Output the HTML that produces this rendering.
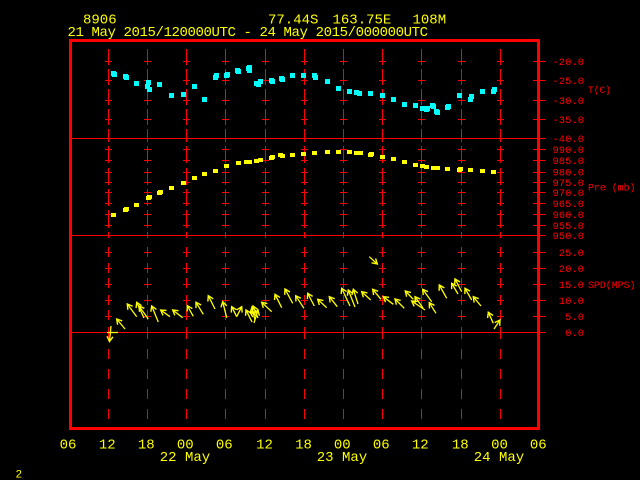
<!DOCTYPE html>
<html><head><meta charset="utf-8"><style>
html,body{margin:0;padding:0;background:#000;width:640px;height:480px;overflow:hidden}
svg{display:block}
text{font-family:"Liberation Mono","DejaVu Sans Mono",monospace}
.y{fill:#ff0}.r{fill:#f00}
</style></head><body>
<svg width="640" height="480" viewBox="0 0 640 480" xmlns="http://www.w3.org/2000/svg">
<defs>
<marker id="ah" viewBox="-6 -6 12 12" markerWidth="12" markerHeight="12" refX="0" refY="0" orient="auto" markerUnits="userSpaceOnUse" overflow="visible"><path d="M-5,-3L0,0L-5,3" fill="none" stroke="#ff0" stroke-width="1.4"/></marker>
<g id="g" stroke="#f00" stroke-width="1" fill="none" shape-rendering="crispEdges">
<path d="M0.5,49V65M0.5,69V85M0.5,89V105M0.5,109V125M0.5,129V142M0.5,146V163M0.5,168V185M0.5,189V206M0.5,210V228M0.5,232V238M0.5,247V257M0.5,263V273M0.5,278V288M0.5,295V305M0.5,310V320M0.5,327V339M0.5,349V359M0.5,369V379M0.5,389V399M0.5,409V419"/>
<path d="M-3,61.5H4M-3,80.5H4M-3,100.5H4M-3,119.5H4M-3,149.5H4M-3,160.5H4M-3,172.5H4M-3,182.5H4M-3,192.5H4M-3,203.5H4M-3,214.5H4M-3,225.5H4M-3,252.5H4M-3,268.5H4M-3,284.5H4M-3,300.5H4M-3,316.5H4"/>
</g>
</defs>
<rect width="640" height="480" fill="#000"/>
<g class="y" font-size="14">
<text x="83" y="23.5">8906</text>
<text x="268" y="23.5">77.44S</text>
<text x="332.5" y="23.5">163.75E</text>
<text x="412.5" y="23.5">108M</text>
<text x="67.5" y="36" textLength="360.5" lengthAdjust="spacing">21 May 2015/120000UTC - 24 May 2015/000000UTC</text>
</g>
<use href="#g" x="108"/><use href="#g" x="147"/><use href="#g" x="186"/><use href="#g" x="225"/><use href="#g" x="265"/><use href="#g" x="304"/><use href="#g" x="343"/><use href="#g" x="382"/><use href="#g" x="421"/><use href="#g" x="461"/><use href="#g" x="500"/>
<g stroke="#f00" stroke-width="1" shape-rendering="crispEdges" fill="none">
<path d="M72,138.5H545M72,235.5H545M72,332.5H545"/>
<path d="M533,61.5H545M533,80.5H545M533,100.5H545M533,119.5H545M533,149.5H545M533,160.5H545M533,172.5H545M533,182.5H545M533,192.5H545M533,203.5H545M533,214.5H545M533,225.5H545M533,252.5H545M533,268.5H545M533,284.5H545M533,300.5H545M533,316.5H545"/>
</g>
<rect x="70.5" y="40.5" width="468" height="388" fill="none" stroke="#f00" stroke-width="3" shape-rendering="crispEdges"/>
<g class="r" font-size="10.5" text-anchor="end">
<text x="584" y="65">-20.0</text><text x="584" y="84">-25.0</text><text x="584" y="104">-30.0</text><text x="584" y="123">-35.0</text><text x="584" y="142">-40.0</text>
<text x="584" y="153">990.0</text><text x="584" y="164">985.0</text><text x="584" y="175.5">980.0</text><text x="584" y="186">975.0</text><text x="584" y="196">970.0</text><text x="584" y="207">965.0</text><text x="584" y="218">960.0</text><text x="584" y="229">955.0</text><text x="584" y="239">950.0</text>
<text x="584" y="256">25.0</text><text x="584" y="272">20.0</text><text x="584" y="288">15.0</text><text x="584" y="304">10.0</text><text x="584" y="320">5.0</text><text x="584" y="336">0.0</text>
</g>
<g class="r" font-size="10.5">
<text x="588" y="93" textLength="23" lengthAdjust="spacingAndGlyphs">T(C)</text>
<text x="588" y="190.5" textLength="47.5" lengthAdjust="spacingAndGlyphs">Pre (mb)</text>
<text x="588" y="287.8" textLength="47.5" lengthAdjust="spacingAndGlyphs">SPD(MPS)</text>
</g>
<g class="y" font-size="14" text-anchor="middle">
<text x="68" y="448.5">06</text><text x="107.3" y="448.5">12</text><text x="146.3" y="448.5">18</text><text x="185.3" y="448.5">00</text><text x="224.3" y="448.5">06</text><text x="264.5" y="448.5">12</text><text x="303.5" y="448.5">18</text><text x="342.3" y="448.5">00</text><text x="381.3" y="448.5">06</text><text x="420.3" y="448.5">12</text><text x="460.3" y="448.5">18</text><text x="499.5" y="448.5">00</text><text x="538.3" y="448.5">06</text>
<text x="185" y="461">22 May</text><text x="342" y="461">23 May</text><text x="499" y="461">24 May</text>
</g>
<text x="15.5" y="477.3" class="y" font-size="11">2</text>
<path fill="#0ff" shape-rendering="crispEdges" d="M111,71h5v5h-5zM112,72h5v5h-5zM123,74h5v5h-5zM124,75h5v5h-5zM134,81h5v5h-5zM146,80h5v5h-5zM145,84h5v5h-5zM147,87h5v5h-5zM157,82h5v5h-5zM169,93h5v5h-5zM181,92h5v5h-5zM192,84h5v5h-5zM202,97h5v5h-5zM213,75h5v5h-5zM214,73h5v5h-5zM224,73h5v5h-5zM225,72h5v5h-5zM235,68h5v5h-5zM236,69h5v5h-5zM246,66h5v5h-5zM247,68h5v5h-5zM247,65h5v5h-5zM254,81h5v5h-5zM256,82h5v5h-5zM258,79h5v5h-5zM269,78h5v5h-5zM270,79h5v5h-5zM279,76h5v5h-5zM280,77h5v5h-5zM290,73h5v5h-5zM301,73h5v5h-5zM312,73h5v5h-5zM313,75h5v5h-5zM325,79h5v5h-5zM336,86h5v5h-5zM347,89h5v5h-5zM354,90h5v5h-5zM357,91h5v5h-5zM368,91h5v5h-5zM380,93h5v5h-5zM391,97h5v5h-5zM402,102h5v5h-5zM413,103h5v5h-5zM420,106h5v5h-5zM424,107h5v5h-5zM425,106h5v5h-5zM430,103h5v5h-5zM431,104h5v5h-5zM434,109h5v5h-5zM435,110h5v5h-5zM445,105h5v5h-5zM446,104h5v5h-5zM457,93h5v5h-5zM468,97h5v5h-5zM469,94h5v5h-5zM480,89h5v5h-5zM491,89h5v5h-5zM492,87h5v5h-5z"/>
<path fill="#ff0" shape-rendering="crispEdges" d="M111,213h5v4h-5zM123,208h5v4h-5zM124,207h5v4h-5zM134,203h5v4h-5zM146,196h5v4h-5zM147,195h5v4h-5zM157,191h5v4h-5zM158,190h5v4h-5zM169,186h5v4h-5zM181,181h5v4h-5zM192,176h5v4h-5zM202,172h5v4h-5zM213,169h5v4h-5zM224,164h5v4h-5zM236,161h5v4h-5zM244,160h8v4h-8zM254,159h5v4h-5zM258,158h5v4h-5zM269,156h5v4h-5zM270,155h5v4h-5zM278,153h5v4h-5zM280,154h5v4h-5zM290,153h5v4h-5zM301,152h5v4h-5zM312,151h5v4h-5zM325,150h5v4h-5zM336,150h5v4h-5zM347,150h5v4h-5zM354,151h9v4h-9zM368,153h5v4h-5zM369,152h5v4h-5zM380,155h5v4h-5zM391,157h5v4h-5zM402,160h5v4h-5zM413,163h5v4h-5zM420,164h5v4h-5zM424,165h5v4h-5zM431,166h9v4h-9zM445,167h5v4h-5zM457,168h5v4h-5zM458,167h5v4h-5zM468,168h5v4h-5zM480,169h5v4h-5zM491,170h5v4h-5z"/>
<g stroke="#ff0" stroke-width="1.3" fill="none" marker-end="url(#ah)">
<line x1="111" y1="326" x2="109.5" y2="341.5"/><line x1="125" y1="329" x2="116.7" y2="319"/><line x1="136.7" y1="316.7" x2="127.3" y2="304"/><line x1="148.3" y1="319" x2="139" y2="306"/><line x1="144" y1="318" x2="136.7" y2="302.3"/><line x1="158.3" y1="322" x2="151.7" y2="306"/><line x1="170" y1="316.7" x2="160.7" y2="310"/><line x1="182.7" y1="317.7" x2="172.7" y2="310"/><line x1="193.3" y1="316.3" x2="187.3" y2="305.7"/><line x1="203.3" y1="314.3" x2="196" y2="302.3"/><line x1="215" y1="309" x2="208.3" y2="295.7"/><line x1="226.7" y1="317.7" x2="222.7" y2="301.7"/><line x1="236.7" y1="316.7" x2="231.7" y2="306.7"/><line x1="236.7" y1="316.7" x2="241.7" y2="306.7"/>
<line x1="252" y1="322" x2="246" y2="310"/><line x1="255" y1="320" x2="252" y2="307"/><line x1="258" y1="318" x2="253" y2="306"/><line x1="257" y1="316" x2="250" y2="312"/><line x1="254" y1="323" x2="258" y2="310"/><line x1="271.7" y1="311.7" x2="261.7" y2="302.3"/><line x1="281.7" y1="307.7" x2="275" y2="294.3"/><line x1="292.7" y1="303.3" x2="285" y2="289"/><line x1="304" y1="308.3" x2="295.7" y2="295.7"/><line x1="314.3" y1="306" x2="307.7" y2="293.3"/><line x1="326.7" y1="307.7" x2="317.7" y2="299.3"/><line x1="337.3" y1="306.7" x2="329.3" y2="296.7"/>
<line x1="350" y1="306" x2="341.7" y2="288.3"/><line x1="355" y1="307" x2="348.3" y2="290"/><line x1="358" y1="304" x2="353.3" y2="289.3"/><line x1="370.7" y1="300" x2="361.7" y2="291.7"/><line x1="381" y1="299.3" x2="372.7" y2="289.3"/><line x1="369.3" y1="256.7" x2="377.3" y2="264"/><line x1="393.3" y1="304.3" x2="383.3" y2="296.7"/><line x1="404.3" y1="308.3" x2="395" y2="299"/><line x1="413.3" y1="299.3" x2="405.3" y2="291"/><line x1="425" y1="310" x2="411.7" y2="301"/><line x1="423" y1="308" x2="415" y2="296.7"/>
<line x1="431.7" y1="301.7" x2="422.7" y2="289.3"/><line x1="436" y1="313.3" x2="429.3" y2="302.7"/><line x1="446.7" y1="298.3" x2="439.3" y2="285"/><line x1="461.7" y1="291.7" x2="455" y2="279"/><line x1="458" y1="294" x2="451.7" y2="283.3"/><line x1="471.7" y1="300" x2="465" y2="288.3"/><line x1="481" y1="306" x2="473.3" y2="296.7"/><line x1="493.3" y1="323.3" x2="488.3" y2="312.3"/><line x1="494" y1="329" x2="500" y2="320"/>
</g>
<path d="M107,332.5H118" stroke="#ff0" stroke-width="1.3"/>
</svg>
</body></html>
